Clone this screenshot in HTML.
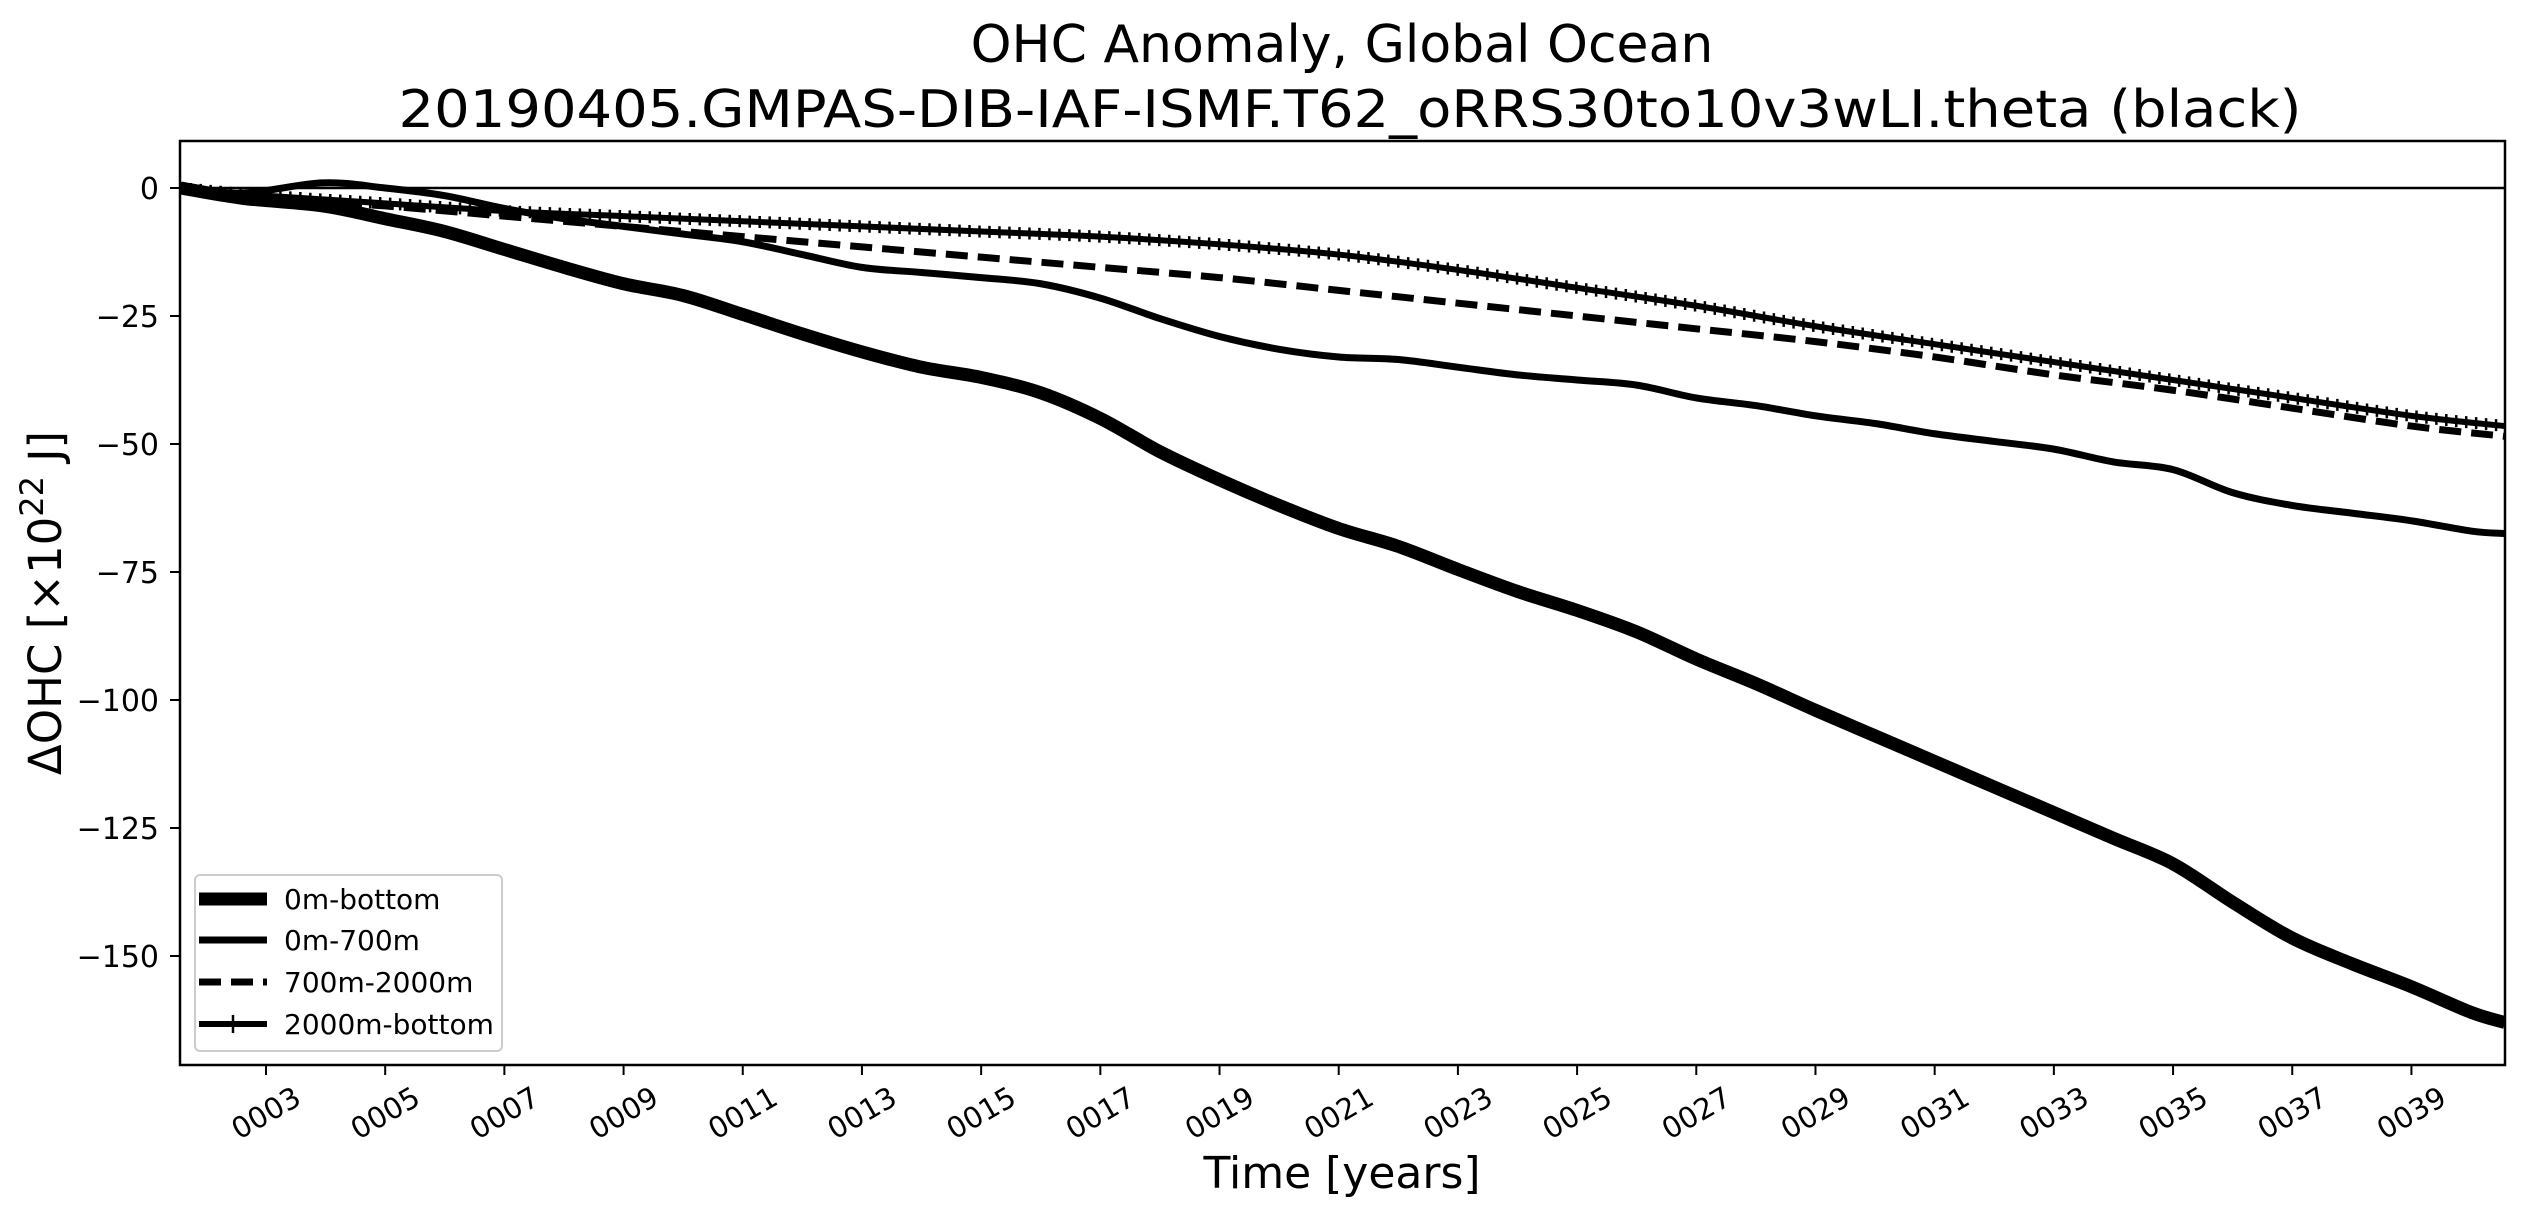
<!DOCTYPE html>
<html><head><meta charset="utf-8"><style>
html,body{margin:0;padding:0;background:#fff;}
svg{display:block;font-family:"DejaVu Sans","Liberation Sans",sans-serif;}
</style></head><body>
<svg id="chart" width="2525" height="1218" viewBox="0 0 2525 1218" xmlns="http://www.w3.org/2000/svg">
<rect width="2525" height="1218" fill="#fff"/>
<text x="1342" y="62" font-size="52" text-anchor="middle">OHC Anomaly, Global Ocean</text>
<text x="1350" y="127" font-size="52" text-anchor="middle" textLength="1903" lengthAdjust="spacingAndGlyphs">20190405.GMPAS-DIB-IAF-ISMF.T62_oRRS30to10v3wLI.theta (black)</text>
<g id="plot"></g>
<g id="axes"></g>
<text transform="translate(61,603) rotate(-90)" font-size="45" text-anchor="middle">ΔOHC [×10<tspan font-size="32" dy="-18">22</tspan><tspan dy="18"> J]</tspan></text>
<text x="1342" y="1188" font-size="44" text-anchor="middle">Time [years]</text>
<g id="legend"></g>
</svg>
<script>
const years = [1.57,2.6,3.95,5,6,7,8,9,10,11,12,13,14,15,16,17,18,19,20,21,22,23,24,25,26,27,28,29,30,31,32,33,34,35,36,37,38,39,40,40.57];
const total = [0,-2,-3.5,-6,-8.5,-12,-15.5,-18.7,-21,-24.7,-28.5,-32,-35,-37,-40,-45,-51.5,-57,-62,-66.5,-70,-74.5,-78.8,-82.5,-86.7,-92,-96.8,-102,-107,-112,-117,-122,-127,-132,-139.5,-146.5,-151.5,-156,-161,-163];
const upper = [0,-1,1,0,-1.5,-4,-6,-7.5,-9,-10.5,-13,-15.5,-16.5,-17.5,-18.7,-21.5,-25.5,-29,-31.5,-33,-33.5,-35,-36.5,-37.5,-38.5,-41,-42.5,-44.5,-46,-48,-49.5,-51,-53.5,-55,-59.5,-62,-63.5,-65,-67,-67.5];
const midYears = [1.57,3,5,7,9,11,13,15,17,19,21,23,25,27,29,31,33,35,37,39,40.57];
const mid = [0,-2,-3.5,-5.5,-7.5,-9.5,-11.5,-13.5,-15.5,-17.5,-20,-22.5,-25,-27.5,-30,-33,-36.5,-39.5,-43,-46.5,-48.5];
const deep = [0,-1.5,-3,-4.5,-5.5,-6.5,-7.5,-8.5,-9.5,-11,-13,-16,-19.5,-23,-27,-30.5,-34,-37.5,-41,-44.5,-46.5];
const yTicks = [0,-25,-50,-75,-100,-125,-150];
const xTicks = [3,5,7,9,11,13,15,17,19,21,23,25,27,29,31,33,35,37,39];
const legendLabels = ["0m-bottom","0m-700m","700m-2000m","2000m-bottom"];

const L=180,R=2505,T=141,B=1065;
const xMin=1.557,xMax=40.57,yZero=188,pxPerUnit=5.12;
const X=v=>L+(v-xMin)/(xMax-xMin)*(R-L);
const Y=v=>yZero-v*pxPerUnit;
const NS="http://www.w3.org/2000/svg";
function mk(tag,parent){const e=document.createElementNS(NS,tag);parent.appendChild(e);return e;}
function smooth(xs,ys){
  const p=xs.map((x,i)=>[X(x),Y(ys[i])]);
  let d=`M${p[0][0]},${p[0][1]}`;
  for(let i=0;i<p.length-1;i++){
    const p0=p[Math.max(0,i-1)],p1=p[i],p2=p[i+1],p3=p[Math.min(p.length-1,i+2)];
    const c1=[p1[0]+(p2[0]-p0[0])/6,p1[1]+(p2[1]-p0[1])/6];
    const c2=[p2[0]-(p3[0]-p1[0])/6,p2[1]-(p3[1]-p1[1])/6];
    d+=` C${c1[0]},${c1[1]} ${c2[0]},${c2[1]} ${p2[0]},${p2[1]}`;
  }
  return d;
}
const plot=document.getElementById('plot');
const axes=document.getElementById('axes');
const clip=mk('clipPath',plot);clip.setAttribute('id','clp');
const cr=mk('rect',clip);cr.setAttribute('x',L);cr.setAttribute('y',T);cr.setAttribute('width',R-L);cr.setAttribute('height',B-T);
const g=mk('g',plot);g.setAttribute('clip-path','url(#clp)');

const zl=mk('line',g);


zl.setAttribute('x1',L);zl.setAttribute('x2',R);zl.setAttribute('y1',Y(0));zl.setAttribute('y2',Y(0));zl.setAttribute('stroke','#000');zl.setAttribute('stroke-width','2.5');

const pT=mk('path',g);


pT.setAttribute('d',smooth(years,total));pT.setAttribute('fill','none');pT.setAttribute('stroke','#000');pT.setAttribute('stroke-width','13');

const pU=mk('path',g);


pU.setAttribute('d',smooth(years,upper));pU.setAttribute('fill','none');pU.setAttribute('stroke','#000');pU.setAttribute('stroke-width','7');

const pM=mk('path',g);


pM.setAttribute('d',smooth(midYears,mid));pM.setAttribute('fill','none');pM.setAttribute('stroke','#000');pM.setAttribute('stroke-width','7');pM.setAttribute('stroke-dasharray','22 10');

const pD=mk('path',g);


pD.setAttribute('d',smooth(midYears,deep));pD.setAttribute('fill','none');pD.setAttribute('stroke','#000');pD.setAttribute('stroke-width','6');
const len=pD.getTotalLength();
let md='';
for(let s=0;s<=len;s+=10){const q=pD.getPointAtLength(s);md+=`M${q.x},${q.y-6}V${q.y+6}`;}
const mk2=mk('path',g);


mk2.setAttribute('d',md);mk2.setAttribute('stroke','#000');mk2.setAttribute('stroke-width','2.5');

const frame=mk('rect',axes);


frame.setAttribute('x',L);frame.setAttribute('y',T);frame.setAttribute('width',R-L);frame.setAttribute('height',B-T);frame.setAttribute('fill','none');frame.setAttribute('stroke','#000');frame.setAttribute('stroke-width','2.5');

yTicks.forEach(v=>{
  const t=mk('line',axes);
  
  
  t.setAttribute('x1',L-10);t.setAttribute('x2',L);t.setAttribute('y1',Y(v));t.setAttribute('y2',Y(v));t.setAttribute('stroke','#000');t.setAttribute('stroke-width','2');
  const tx=mk('text',axes);
  
  
  tx.setAttribute('x',L-21);tx.setAttribute('y',Y(v)+11);tx.setAttribute('font-size','30');tx.setAttribute('text-anchor','end');
  tx.textContent=v<0?'\u2212'+Math.abs(v):String(v);
});
xTicks.forEach(v=>{
  const x=X(v);
  const t=mk('line',axes);
  
  
  t.setAttribute('x1',x);t.setAttribute('x2',x);t.setAttribute('y1',B);t.setAttribute('y2',B+10);t.setAttribute('stroke','#000');t.setAttribute('stroke-width','2');
  const tx=mk('text',axes);
  
  
  tx.setAttribute('transform',`translate(${x},${1113}) rotate(-30)`);tx.setAttribute('font-size','29');tx.setAttribute('text-anchor','middle');tx.setAttribute('dy','10');
  tx.textContent=String(v).padStart(4,'0');
});

const lg=document.getElementById('legend');
const box=mk('rect',lg);


box.setAttribute('x',195);box.setAttribute('y',875);box.setAttribute('width',307);box.setAttribute('height',176);box.setAttribute('rx',5);box.setAttribute('fill','#fff');box.setAttribute('fill-opacity','0.8');box.setAttribute('stroke','#ccc');box.setAttribute('stroke-width','2');
const ly=[899,940,982,1024];
const lw=[13,7,7,6];
const dash=[null,null,'22 10',null];
legendLabels.forEach((lab,i)=>{
  const l=mk('line',lg);
  
  
  l.setAttribute('x1',199);l.setAttribute('x2',267);l.setAttribute('y1',ly[i]);l.setAttribute('y2',ly[i]);l.setAttribute('stroke','#000');l.setAttribute('stroke-width',lw[i]);
  if(dash[i])l.setAttribute('stroke-dasharray',dash[i]);
  if(i===3){const m=mk('line',lg);m.setAttribute('x1',233);m.setAttribute('x2',233);m.setAttribute('y1',ly[i]-9);m.setAttribute('y2',ly[i]+9);m.setAttribute('stroke','#000');m.setAttribute('stroke-width','2.5');}
  const t=mk('text',lg);
  
  
  t.setAttribute('x',284);t.setAttribute('y',ly[i]+10);t.setAttribute('font-size','28');
  t.textContent=lab;
});
</script>
</body></html>
